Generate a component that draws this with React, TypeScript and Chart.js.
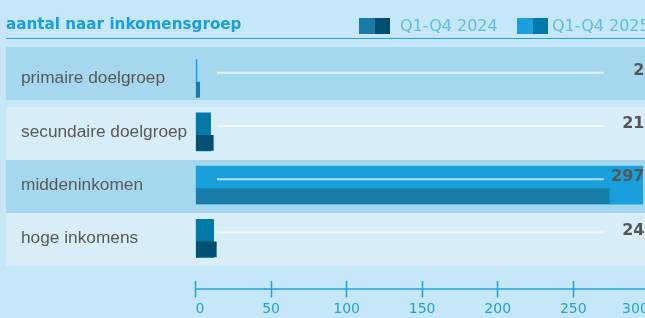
import React, { useEffect, useRef } from "react";
import { Chart, registerables } from "chart.js";

Chart.register(...registerables);

const title = "aantal naar inkomensgroep";
const categories = ["primaire doelgroep", "secundaire doelgroep", "middeninkomen", "hoge inkomens"];
const seriesNames = ["Q1-Q4 2024", "Q1-Q4 2025"];
const values2024 = [3, 12, 274, 14];
const values2025 = [1, 10, 296, 12];
const valueLabels = ["2", "21", "297", "24"];
const xTicks = [0, 50, 100, 150, 200, 250, 300];

const colors2024 = ["#187ea8", "#005073", "#187ea8", "#005073"];
const colors2025 = ["#189fdc", "#0079a6", "#189fdc", "#0079a6"];
const legendColors = [
  ["#1a7aa6", "#004f70"],
  ["#1a9fdc", "#0079a6"],
];

const bandsPlugin = {
  id: "bands",
  beforeDraw(chart: any) {
    const { ctx } = chart;
    const y = chart.scales.y;
    ctx.save();
    categories.forEach((_, i) => {
      const c = y.getPixelForValue(i);
      const top = Math.round(i === 0 ? c - 32 : c - 25);
      ctx.fillStyle = i % 2 === 0 ? "#a5d8ef" : "#d7edf8";
      ctx.fillRect(6, top, chart.width - 6, 53);
    });
    ctx.restore();
  },
};

const overlayPlugin = {
  id: "overlay",
  afterDatasetsDraw(chart: any) {
    const { ctx, chartArea } = chart;
    const y = chart.scales.y;
    const x = chart.scales.x;
    ctx.save();
    categories.forEach((_, i) => {
      const c = y.getPixelForValue(i);
      ctx.strokeStyle = "rgba(255,255,255,0.68)";
      ctx.lineWidth = 2;
      ctx.beginPath();
      ctx.moveTo(chartArea.left + 21.5, c - 6);
      ctx.lineTo(chartArea.right - 45, c - 6);
      ctx.stroke();
      ctx.font = "bold 16px 'DejaVu Sans'";
      ctx.fillStyle = "#555555";
      ctx.textAlign = "right";
      ctx.textBaseline = "middle";
      ctx.fillText(valueLabels[i], chartArea.right - 4.3, c - 8);
    });
    ctx.strokeStyle = "#22a0dd";
    ctx.lineWidth = 1.5;
    const ay = x.top + 24;
    ctx.beginPath();
    ctx.moveTo(x.left, ay);
    ctx.lineTo(chart.width, ay);
    ctx.stroke();
    ctx.restore();
  },
};

function BarChart() {
  const ref = useRef<HTMLCanvasElement | null>(null);
  useEffect(() => {
    if (!ref.current) return;
    const chart = new Chart(ref.current, {
      type: "bar",
      data: {
        labels: categories,
        datasets: [
          {
            label: "",
            data: categories.map(() => null),
            backgroundColor: "transparent",
            categoryPercentage: 0.826,
            barPercentage: 0.727,
          },
          {
            label: seriesNames[0],
            data: values2024,
            backgroundColor: colors2024,
            categoryPercentage: 0.826,
            barPercentage: 0.727,
          },
          {
            label: seriesNames[1],
            data: values2025,
            backgroundColor: colors2025,
            grouped: false,
            barThickness: 38,
          } as any,
        ],
      },
      options: {
        indexAxis: "y",
        responsive: false,
        animation: false,
        layout: { padding: { top: 52, left: 21, right: 11.2, bottom: 0 } },
        plugins: {
          legend: { display: false },
          tooltip: { enabled: false },
          title: { display: false },
        },
        scales: {
          x: {
            type: "linear",
            position: "bottom",
            min: xTicks[0],
            max: xTicks[xTicks.length - 1],
            ticks: {
              stepSize: xTicks[1] - xTicks[0],
              align: "inner",
              color: "#22a0dd",
              font: { family: "DejaVu Sans", size: 14 },
              padding: 3,
              maxRotation: 0,
              autoSkip: false,
            },
            grid: {
              display: true,
              drawOnChartArea: false,
              drawTicks: true,
              tickLength: 33,
              tickColor: "#22a0dd",
              tickWidth: 1.5,
              tickBorderDash: [0, 16, 16.5, 100],
            },
            border: { display: false },
            afterFit: (s: any) => {
              s.height = 53;
            },
          },
          y: {
            type: "category",
            ticks: {
              crossAlign: "far",
              color: "#595959",
              font: { family: "Liberation Sans", size: 17.3 },
            },
            grid: { display: false },
            border: { display: false },
            afterFit: (s: any) => {
              s.width = 174.5;
            },
          },
        },
      } as any,
      plugins: [bandsPlugin, overlayPlugin],
    });
    return () => chart.destroy();
  }, []);
  return (
    <canvas
      ref={ref}
      width={660}
      height={318}
      style={{ position: "absolute", left: 0, top: 0, width: 660, height: 318 }}
    />
  );
}

function LegendItem({ x, textX, colors, label }: { x: number; textX: number; colors: string[]; label: string }) {
  return (
    <>
      <div style={{ position: "absolute", left: x, top: 18.3, width: 15.5, height: 15.5, background: colors[0] }} />
      <div style={{ position: "absolute", left: x + 15.5, top: 18.3, width: 15.5, height: 15.5, background: colors[1] }} />
      <div
        style={{
          position: "absolute",
          left: textX,
          top: 18.2,
          fontFamily: "'DejaVu Sans'",
          fontSize: 16,
          lineHeight: "16px",
          color: "#5bbde8",
          whiteSpace: "nowrap",
        }}
      >
        {label}
      </div>
    </>
  );
}

export default function App() {
  return (
    <div
      style={{
        position: "fixed",
        left: 0,
        top: 0,
        width: 645,
        height: 318,
        overflow: "hidden",
        background: "#c5e7f7",
      }}
    >
      <BarChart />
      <div
        style={{
          position: "absolute",
          left: 6,
          top: 17.1,
          fontFamily: "'DejaVu Sans'",
          fontWeight: "bold",
          fontSize: 15.2,
          lineHeight: "15.2px",
          color: "#1a9fdc",
          whiteSpace: "nowrap",
        }}
      >
        {title}
      </div>
      <LegendItem x={359} textX={400} colors={legendColors[0]} label={seriesNames[0]} />
      <LegendItem x={517} textX={552} colors={legendColors[1]} label={seriesNames[1]} />
      <div style={{ position: "absolute", left: 6, top: 38, right: 0, height: 1, background: "#22a0dd" }} />
    </div>
  );
}
